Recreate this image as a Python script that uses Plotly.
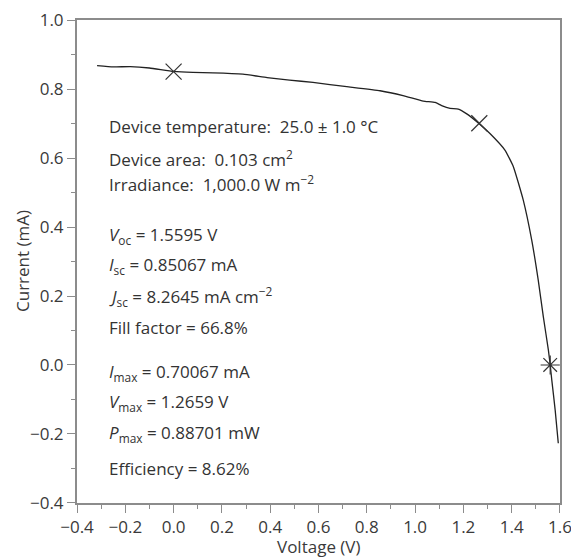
import plotly.graph_objects as go

# I-V curve data (Voltage in V, Current in mA)
voltage = [-0.317, -0.25, -0.18, -0.10, 0.0, 0.08, 0.163, 0.287, 0.387, 0.48, 0.577,
           0.717, 0.855, 0.95, 1.034, 1.083, 1.110, 1.145, 1.179, 1.214, 1.263, 1.310,
           1.372, 1.407, 1.448, 1.483, 1.510, 1.531, 1.552, 1.5595, 1.566, 1.58, 1.593]
current = [0.868, 0.864, 0.865, 0.861, 0.851, 0.848, 0.847, 0.843, 0.833, 0.826, 0.819,
           0.807, 0.795, 0.781, 0.765, 0.761, 0.752, 0.744, 0.742, 0.728, 0.701, 0.671,
           0.623, 0.575, 0.478, 0.362, 0.246, 0.140, 0.043, 0.0, -0.043, -0.13, -0.227]

# Key points: short circuit, max power, open circuit
key_v = [0.0, 1.2659]
key_i = [0.85067, 0.70067]
voc_v = [1.5595]
voc_i = [0.0]

x_ticks = [-0.4, -0.2, 0.0, 0.2, 0.4, 0.6, 0.8, 1.0, 1.2, 1.4, 1.6]
y_ticks = [-0.4, -0.2, 0.0, 0.2, 0.4, 0.6, 0.8, 1.0]

text_lines = [
    ("Device temperature:  25.0 ± 1.0 °C", 126.7),
    ("Device area:  0.103 cm<sup>2</sup>", 158.5),
    ("Irradiance:  1,000.0 W m<sup>−2</sup>", 183.3),
    ("<i>V</i><sub>oc</sub> = 1.5595 V", 235.3),
    ("<i>I</i><sub>sc</sub> = 0.85067 mA", 265.0),
    ("<i>J</i><sub>sc</sub> = 8.2645 mA cm<sup>−2</sup>", 296.3),
    ("Fill factor = 66.8%", 327.5),
    ("<i>I</i><sub>max</sub> = 0.70067 mA", 372.0),
    ("<i>V</i><sub>max</sub> = 1.2659 V", 402.5),
    ("<i>P</i><sub>max</sub> = 0.88701 mW", 433.7),
    ("Efficiency = 8.62%", 468.3),
]

W, H = 571, 557
ML, MR, MT, MB = 77, 11, 20, 54
plot_w = W - ML - MR
plot_h = H - MT - MB

fig = go.Figure()
fig.add_trace(go.Scatter(x=voltage, y=current, mode="lines",
                         line=dict(color="#222222", width=1.3, shape="spline", smoothing=0.4),
                         hoverinfo="skip"))
fig.add_trace(go.Scatter(x=key_v, y=key_i, mode="markers",
                         marker=dict(symbol="x-thin-open", size=16, color="#333333",
                                     line=dict(color="#333333", width=1.2))))
fig.add_trace(go.Scatter(x=voc_v, y=voc_i, mode="markers",
                         marker=dict(symbol="asterisk-open", size=16, color="#333333",
                                     line=dict(color="#333333", width=1.2))))

font_family = "Open Sans, Lato, sans-serif"
TXT = 17
for txt, ypx in text_lines:
    fig.add_annotation(text=txt, xref="paper", yref="paper",
                       x=(107 - 77) / plot_w, y=(503 - ypx) / plot_h,
                       xanchor="left", yanchor="middle", showarrow=False,
                       font=dict(family=font_family, size=TXT, color="#333333"))

# Axis titles
fig.add_annotation(text="Voltage (V)", xref="paper", yref="paper",
                   x=0.5, y=(503 - 546) / plot_h, xanchor="center", yanchor="middle",
                   showarrow=False, font=dict(family=font_family, size=TXT, color="#3a3a3a"))
fig.add_annotation(text="Current (mA)", xref="paper", yref="paper",
                   x=(22.5 - 77) / plot_w, y=0.5, xanchor="center", yanchor="middle",
                   textangle=-90, showarrow=False,
                   font=dict(family=font_family, size=TXT, color="#3a3a3a"))

axis_common = dict(
    showgrid=False, zeroline=False, showline=True, linecolor="#8c8c8c", linewidth=2,
    mirror=True, ticks="outside", ticklen=8, tickwidth=1.3, tickcolor="#8c8c8c",
    tickfont=dict(family=font_family, size=TXT, color="#3a3a3a"),
    ticklabeloverflow="allow",
    minor=dict(ticks="outside", ticklen=4, tickwidth=1.3, tickcolor="#8c8c8c", dtick=0.1),
    automargin=False,
)

fig.update_layout(
    width=W, height=H,
    margin=dict(l=ML, r=MR, t=MT, b=MB),
    paper_bgcolor="white", plot_bgcolor="white",
    showlegend=False,
    xaxis=dict(range=[-0.4001, 1.6001], tickmode="array", tickvals=x_ticks,
               ticktext=[f"{v:.1f}".replace("-", "−") for v in x_ticks],
               **axis_common),
    yaxis=dict(range=[-0.4001, 1.0001], tickmode="array", tickvals=y_ticks,
               ticktext=[f"{v:.1f}".replace("-", "−") for v in y_ticks],
               **axis_common),
)

fig.write_html("out.html", config={"displayModeBar": False},
               post_script="document.documentElement.style.overflow='hidden';document.body.style.margin='0';document.body.style.overflow='hidden';")
